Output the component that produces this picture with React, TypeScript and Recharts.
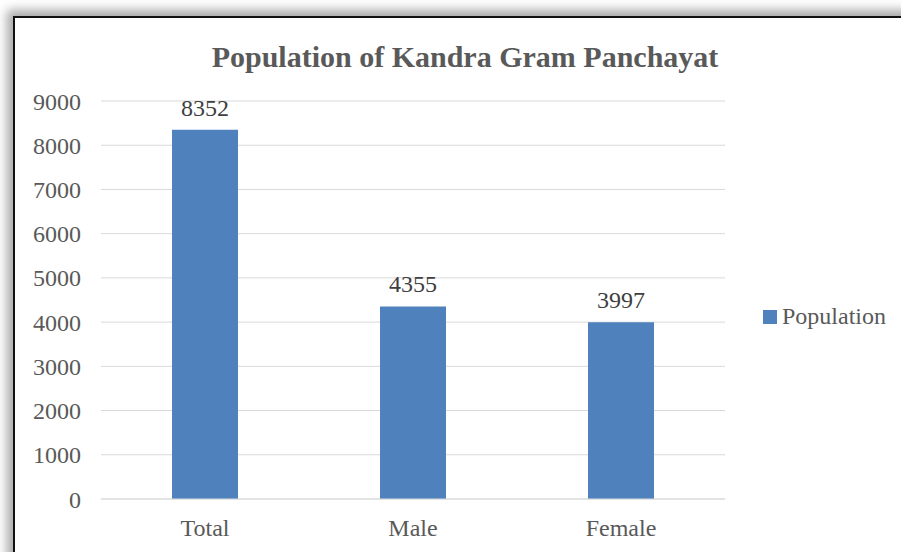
import React from 'react';
import { BarChart, Bar, XAxis, YAxis, CartesianGrid, LabelList } from 'recharts';

const categories = ['Total', 'Male', 'Female'];
const population = [8352, 4355, 3997];
const yTicks = [0, 1000, 2000, 3000, 4000, 5000, 6000, 7000, 8000, 9000];
const seriesName = 'Population';

const data = categories.map((name, i) => ({ name, [seriesName]: population[i] }));

const FONT = '"Liberation Serif", "Times New Roman", serif';
const BLUE = '#4f81bd';
const FS = 24;

export default function App() {
    return (
        <div style={{ position: 'absolute', left: 0, top: 0, width: 901, height: 552, background: '#fff', overflow: 'hidden' }}>
            <div
                style={{
                    position: 'absolute',
                    left: 13,
                    top: 16,
                    width: 950,
                    height: 600,
                    border: '2px solid #111',
                    boxShadow: '-4px -4px 10px 2px rgba(0,0,0,0.35)',
                    background: '#fff',
                }}
            />
            <div
                style={{
                    position: 'absolute',
                    left: 0,
                    width: 930,
                    top: 40,
                    textAlign: 'center',
                    fontFamily: FONT,
                    fontWeight: 'bold',
                    fontSize: 30,
                    color: '#595959',
                }}
            >
                Population of Kandra Gram Panchayat
            </div>
            <div
                style={{
                    position: 'absolute',
                    left: 763,
                    top: 303,
                    display: 'flex',
                    alignItems: 'center',
                    fontFamily: FONT,
                    fontSize: FS,
                    color: '#595959',
                }}
            >
                <span style={{ display: 'inline-block', width: 14, height: 14, background: BLUE, marginRight: 5 }} />
                <span>{seriesName}</span>
            </div>
            <div style={{ position: 'absolute', left: 0, top: 0 }}>
                <BarChart width={901} height={552} data={data} margin={{ top: 101, right: 176, bottom: 23, left: 0 }} barCategoryGap={71}>
                    <CartesianGrid vertical={false} stroke="#d9d9d9" />
                    <XAxis
                        dataKey="name"
                        height={30}
                        axisLine={{ stroke: '#d9d9d9' }}
                        tickLine={false}
                        tickSize={0}
                        tickMargin={20}
                        tick={{ fill: '#595959', fontSize: FS, fontFamily: FONT }}
                    />
                    <YAxis
                        width={101}
                        domain={[0, 9000]}
                        ticks={yTicks}
                        axisLine={false}
                        tickLine={false}
                        tickSize={0}
                        tickMargin={20}
                        tick={{ fill: '#595959', fontSize: FS, fontFamily: FONT }}
                    />
                    <Bar dataKey={seriesName} fill={BLUE} isAnimationActive={false}>
                        <LabelList dataKey={seriesName} position="top" offset={14} fill="#404040" fontSize={FS} fontFamily={FONT} />
                    </Bar>
                </BarChart>
            </div>
        </div>
    );
}
